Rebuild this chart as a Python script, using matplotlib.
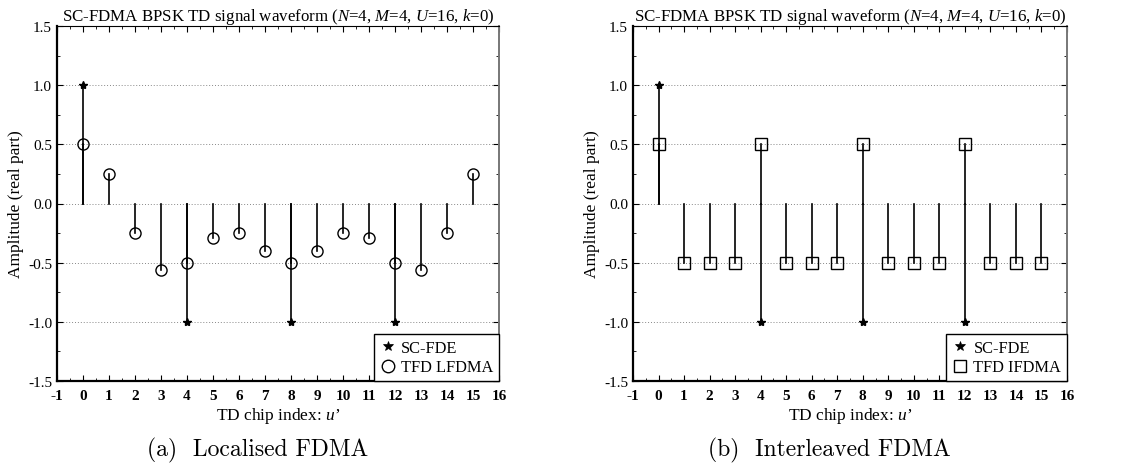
import numpy as np
import matplotlib
matplotlib.use("Agg")
import matplotlib.pyplot as plt
from matplotlib.ticker import MultipleLocator
from matplotlib.lines import Line2D

# Chip indices
chips = list(range(16))

# SC-FDE reference symbols (nonzero chips only)
scfde_idx = [0, 4, 8, 12]
scfde_val = [1.0, -1.0, -1.0, -1.0]

# Localised FDMA time-domain samples (real part)
lfdma_val = [0.5, 0.25, -0.25, -0.56, -0.5, -0.29, -0.25, -0.40,
             -0.5, -0.40, -0.25, -0.29, -0.5, -0.56, -0.25, 0.25]

# Interleaved FDMA time-domain samples (real part)
ifdma_val = [0.5, -0.5, -0.5, -0.5, 0.5, -0.5, -0.5, -0.5,
             0.5, -0.5, -0.5, -0.5, 0.5, -0.5, -0.5, -0.5]

xticks = list(range(-1, 17))
yticks = [-1.5, -1.0, -0.5, 0.0, 0.5, 1.0, 1.5]

title = r"SC-FDMA BPSK TD signal waveform ($N$=4, $M$=4, $U$=16, $k$=0)"

plt.rcParams["font.family"] = ["Liberation Serif", "DejaVu Serif"]
plt.rcParams["mathtext.fontset"] = "custom"
plt.rcParams["mathtext.it"] = "Liberation Serif:italic"
plt.rcParams["mathtext.rm"] = "Liberation Serif"
plt.rcParams["axes.unicode_minus"] = False

fig = plt.figure(figsize=(11.31, 4.77), dpi=100)


def stems(ax, x, y, marker, ms, z):
    for xi, yi in zip(x, y):
        ax.plot([xi, xi], [0, yi], color="black", lw=1.2, zorder=z)
    ax.plot(x, y, linestyle="none", marker=marker, ms=ms, mfc="none",
            mec="black", mew=1.0, zorder=z + 1)


def setup(ax, legend_label, legend_marker):
    ax.set_xlim(-1, 16)
    ax.set_ylim(-1.5, 1.5)
    ax.set_xticks(xticks)
    ax.set_yticks(yticks)
    ax.set_yticklabels([f"{v:.1f}" for v in yticks])
    ax.xaxis.set_minor_locator(MultipleLocator(0.5))
    ax.yaxis.set_minor_locator(MultipleLocator(0.25))
    ax.tick_params(which="both", direction="in", top=True, right=True)
    ax.tick_params(which="major", length=4, width=0.8, labelsize=11)
    ax.tick_params(axis="x", which="major", pad=6)
    ax.tick_params(which="minor", length=2, width=0.6)
    for lbl in ax.get_xticklabels():
        lbl.set_fontweight("bold")
    ax.grid(axis="y", which="major", linestyle=(0, (1, 2)), color="#888888", lw=0.7)
    ax.set_axisbelow(True)
    ax.spines["left"].set_linewidth(1.6)
    ax.spines["bottom"].set_linewidth(1.6)
    ax.spines["top"].set_linewidth(0.8)
    ax.spines["right"].set_linewidth(1.4)
    ax.spines["right"].set_color("#777777")
    ax.set_title(title, fontsize=12.2, pad=4)
    ax.set_xlabel(r"TD chip index: $u$’", fontsize=12.5, labelpad=2)
    ax.set_ylabel("Amplitude (real part)", fontsize=12.5, labelpad=3)
    handles = [
        Line2D([], [], linestyle="none", marker="*", ms=7, mfc="black", mec="black", mew=0.5),
        Line2D([], [], linestyle="none", marker=legend_marker, ms=9, mfc="none", mec="black"),
    ]
    leg = ax.legend(handles, ["SC-FDE", legend_label], loc="lower right",
                    fontsize=11.8, frameon=True, fancybox=False, borderaxespad=0,
                    handletextpad=0.3, handlelength=1.0, borderpad=0.35,
                    labelspacing=0.2)
    leg.get_frame().set_edgecolor("black")
    leg.get_frame().set_linewidth(1.0)
    leg.get_frame().set_alpha(1)


ax1 = fig.add_axes([57 / 1131, 1 - 382 / 477, 442 / 1131, 355 / 477])
stems(ax1, scfde_idx, scfde_val, "*", 6, 3)
ax1.plot(scfde_idx, scfde_val, linestyle="none", marker="*", ms=6, color="black", mew=0.5, zorder=4)
stems(ax1, chips, lfdma_val, "o", 8, 5)
setup(ax1, "TFD LFDMA", "o")

ax2 = fig.add_axes([633 / 1131, 1 - 382 / 477, 434 / 1131, 355 / 477])
stems(ax2, scfde_idx, scfde_val, "*", 6, 3)
ax2.plot(scfde_idx, scfde_val, linestyle="none", marker="*", ms=6, color="black", mew=0.5, zorder=4)
stems(ax2, chips, ifdma_val, "s", 8, 5)
setup(ax2, "TFD IFDMA", "s")

fig.text(258 / 1131, 1 - 450 / 477, "(a)  Localised FDMA", family="cmr10",
         fontsize=17, ha="center", va="center")
fig.text(829 / 1131, 1 - 450 / 477, "(b)  Interleaved FDMA", family="cmr10",
         fontsize=17, ha="center", va="center")

fig.savefig("out.png", dpi=100)
